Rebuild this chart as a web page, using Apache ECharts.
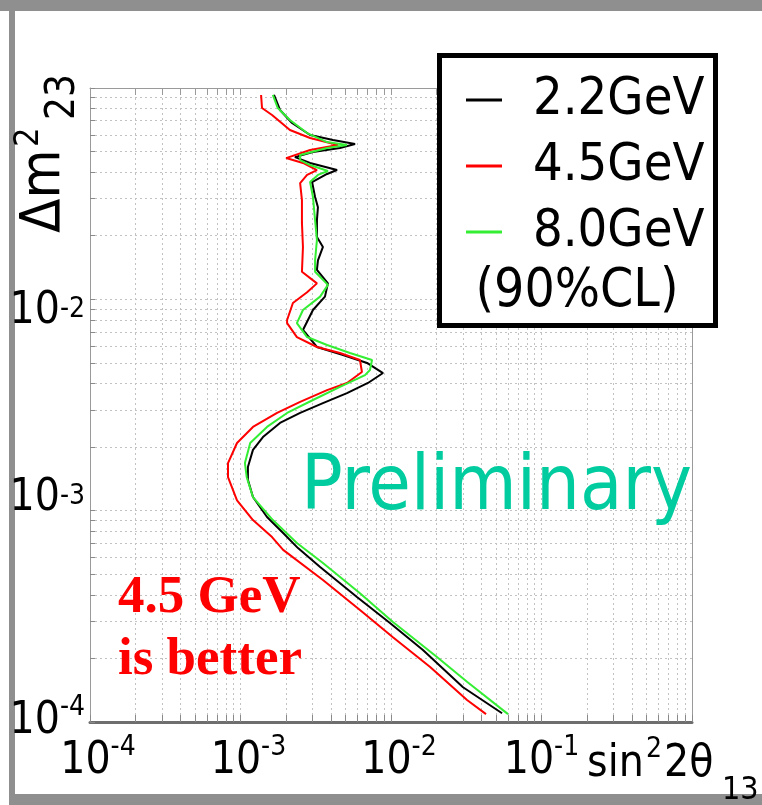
<!DOCTYPE html>
<html>
<head>
<meta charset="utf-8">
<script src="https://cdn.jsdelivr.net/npm/echarts@6/dist/echarts.min.js"></script>
<style>
html, body { margin: 0; padding: 0; background: #fff; }
#main { width: 762px; height: 805px; }
</style>
</head>
<body>
<div id="main"></div>
<script>
// 90% CL contours, [sin^2 2theta13, dm^2_23]
var seriesNames = ['2.2GeV', '4.5GeV', '8.0GeV'];
var seriesColors = ['#000000', '#ff0000', '#33ee33'];

var curve22 = [
  [1.67e-3, 9.27e-2], [1.83e-3, 7.87e-2], [2.20e-3, 6.83e-2], [2.90e-3, 5.99e-2],
  [4.12e-3, 5.67e-2], [5.77e-3, 5.43e-2], [4.58e-3, 5.20e-2], [3.03e-3, 4.98e-2],
  [2.30e-3, 4.71e-2], [2.90e-3, 4.42e-2], [4.38e-3, 4.09e-2], [3.76e-3, 3.92e-2],
  [2.99e-3, 3.59e-2], [3.13e-3, 3.05e-2], [3.27e-3, 2.73e-2], [3.22e-3, 2.37e-2],
  [3.22e-3, 1.97e-2], [3.53e-3, 1.77e-2], [3.27e-3, 1.53e-2], [3.22e-3, 1.38e-2],
  [3.81e-3, 1.19e-2], [3.64e-3, 1.03e-2], [3.03e-3, 8.90e-3], [2.60e-3, 7.16e-3],
  [3.22e-3, 5.95e-3], [4.80e-3, 5.45e-3], [6.93e-3, 5.00e-3], [8.85e-3, 4.48e-3],
  [7.03e-3, 4.02e-3], [5.10e-3, 3.60e-3], [3.53e-3, 3.23e-3], [2.49e-3, 2.90e-3],
  [1.83e-3, 2.60e-3], [1.41e-3, 2.23e-3], [1.21e-3, 1.94e-3], [1.12e-3, 1.61e-3],
  [1.12e-3, 1.40e-3], [1.21e-3, 1.16e-3], [1.50e-3, 9.33e-4], [1.92e-3, 7.84e-4],
  [2.41e-3, 6.65e-4], [3.38e-3, 5.41e-4], [5.94e-3, 3.90e-4], [9.84e-3, 2.94e-4],
  [1.63e-2, 2.19e-4], [3.01e-2, 1.46e-4], [5.47e-2, 1.10e-4]
];

var curve45 = [
  [1.37e-3, 9.27e-2], [1.39e-3, 8.04e-2], [1.62e-3, 7.45e-2], [2.13e-3, 6.33e-2],
  [2.90e-3, 5.80e-2], [4.44e-3, 5.37e-2], [2.90e-3, 5.09e-2], [2.01e-3, 4.66e-2],
  [2.60e-3, 4.42e-2], [3.22e-3, 4.09e-2], [2.77e-3, 3.88e-2], [2.49e-3, 3.55e-2],
  [2.56e-3, 2.95e-2], [2.56e-3, 2.30e-2], [2.60e-3, 1.77e-2], [2.56e-3, 1.35e-2],
  [3.22e-3, 1.19e-2], [2.77e-3, 1.08e-2], [2.23e-3, 9.61e-3], [2.04e-3, 7.98e-3],
  [2.04e-3, 7.72e-3], [2.37e-3, 6.63e-3], [3.22e-3, 5.95e-3], [4.58e-3, 5.57e-3],
  [6.22e-3, 5.16e-3], [6.41e-3, 4.53e-3], [5.10e-3, 4.02e-3], [3.76e-3, 3.72e-3],
  [2.49e-3, 3.27e-3], [1.75e-3, 2.90e-3], [1.21e-3, 2.49e-3], [9.48e-4, 2.09e-3],
  [8.26e-4, 1.68e-3], [8.26e-4, 1.44e-3], [9.48e-4, 1.12e-3], [1.21e-3, 9.03e-4],
  [1.62e-3, 7.50e-4], [1.92e-3, 6.52e-4], [3.53e-3, 4.70e-4], [6.22e-3, 3.39e-4],
  [1.03e-2, 2.52e-4], [1.82e-2, 1.82e-4], [3.20e-2, 1.27e-4], [4.28e-2, 1.09e-4]
];

var curve80 = [
  [1.64e-3, 9.27e-2], [1.77e-3, 8.04e-2], [2.13e-3, 7.06e-2], [2.77e-3, 6.12e-2],
  [3.76e-3, 5.55e-2], [5.10e-3, 5.37e-2], [3.76e-3, 5.20e-2], [2.49e-3, 4.82e-2],
  [2.49e-3, 4.56e-2], [2.90e-3, 4.32e-2], [3.81e-3, 4.05e-2], [3.27e-3, 3.88e-2],
  [2.90e-3, 3.59e-2], [3.03e-3, 3.05e-2], [3.13e-3, 2.37e-2], [3.22e-3, 1.91e-2],
  [3.13e-3, 1.53e-2], [3.13e-3, 1.35e-2], [3.81e-3, 1.17e-2], [3.38e-3, 1.03e-2],
  [2.60e-3, 8.90e-3], [2.37e-3, 7.72e-3], [2.77e-3, 6.63e-3], [3.76e-3, 6.08e-3],
  [5.34e-3, 5.57e-3], [7.48e-3, 5.16e-3], [7.25e-3, 4.63e-3], [6.72e-3, 4.38e-3],
  [4.58e-3, 3.85e-3], [3.03e-3, 3.34e-3], [2.04e-3, 2.90e-3], [1.50e-3, 2.49e-3],
  [1.16e-3, 2.09e-3], [1.07e-3, 1.68e-3], [1.10e-3, 1.44e-3], [1.21e-3, 1.16e-3],
  [1.64e-3, 9.03e-4], [2.37e-3, 7.03e-4], [3.53e-3, 5.65e-4], [6.22e-3, 4.07e-4],
  [1.03e-2, 2.97e-4], [2.02e-2, 2.03e-4], [3.20e-2, 1.55e-4], [5.99e-2, 1.09e-4]
];

var xLabelValues = [1e-4, 1e-3, 1e-2, 1e-1];
var yLabelValues = [1e-4, 1e-3, 1e-2];
var mantissas = [1, 2, 3, 4, 5, 6, 7, 8, 9];
var xDecades = [1e-4, 1e-3, 1e-2, 1e-1];
var yDecades = [1e-4, 1e-3, 1e-2];

function gridValues(decades, top) {
  var out = [];
  decades.forEach(function (d) {
    mantissas.forEach(function (m) { out.push(+(m * d).toPrecision(3)); });
  });
  out.push(top);
  return out;
}
var xGrid = gridValues(xDecades, 1);
var yGrid = gridValues(yDecades, 1e-1);

var FONT = "'DejaVu Sans Condensed', 'Liberation Sans', sans-serif";

function baseStyle(pad) {
  return { fontSize: 44, lineHeight: 56, fontFamily: FONT, color: '#000', padding: pad };
}
function supStyle(pad) {
  return { fontSize: 28, lineHeight: 28, fontFamily: FONT, color: '#000', verticalAlign: 'top', padding: pad };
}
// x labels sit a bit right of their ticks, except 10^-1
var xRich = { b: baseStyle([0, 0, 0, 16]), s: supStyle([0, 0, 0, 0]), bn: baseStyle([0, 0, 0, 0]), sn: supStyle([0, 0, 0, 0]) };
// the slide's y labels sit a little off their gridlines: 10^-2 below, 10^-3 above
var yRich = {
  b: baseStyle([0, 0, 0, 0]), s: supStyle([0, 0, 0, 0]),
  bd: baseStyle([24, 0, 0, 0]), sd: supStyle([24, 0, 0, 0]),
  bu: baseStyle([0, 0, 24, 0]), su: supStyle([0, 0, 0, 0])
};
function xLabel(v) {
  var e = Math.round(Math.log(v) / Math.LN10);
  var k = e === -1 ? 'n' : '';
  return '{b' + k + '|10}{s' + k + '|' + e + '}';
}
function yLabel(v) {
  var e = Math.round(Math.log(v) / Math.LN10);
  var k = e === -2 ? 'd' : (e === -3 ? 'u' : '');
  return '{b' + k + '|10}{s' + k + '|' + e + '}';
}

var chart = echarts.init(document.getElementById('main'));

var option = {
  animation: false,
  backgroundColor: '#fff',
  grid: { left: 90, top: 88, right: 70, bottom: 83, containLabel: false },
  legend: {
    orient: 'vertical', left: 461, top: 62,
    itemWidth: 36, itemHeight: 3, itemGap: 0, icon: 'rect',
    selectedMode: false, z: 10,
    data: seriesNames,
    textStyle: { fontSize: 52, fontFamily: FONT, color: '#000', lineHeight: 66, padding: [0, 0, 0, 26] }
  },
  xAxis: [{
    type: 'log', logBase: 10, min: 1e-4, max: 1, position: 'bottom',
    axisLine: { show: true, onZero: false, lineStyle: { color: '#6e6e6e', width: 3 } },
    axisTick: { show: true, inside: true, length: 7, customValues: xGrid, lineStyle: { color: '#8a8a8a' } },
    axisLabel: { customValues: xLabelValues, formatter: xLabel, rich: xRich, margin: 12 },
    splitLine: { show: true, lineStyle: { color: '#c2c2c2', type: [2, 3] } },
    minorTick: { show: false }
  }, {
    type: 'log', logBase: 10, min: 1e-4, max: 1, position: 'top',
    axisLine: { show: true, onZero: false, lineStyle: { color: '#9a9a9a', width: 1 } },
    axisTick: { show: true, inside: true, length: 7, customValues: xGrid, lineStyle: { color: '#9a9a9a' } },
    axisLabel: { show: false },
    splitLine: { show: false }
  }],
  yAxis: [{
    type: 'log', logBase: 10, min: 1e-4, max: 1e-1, position: 'left',
    axisLine: { show: true, onZero: false, lineStyle: { color: '#9a9a9a', width: 1 } },
    axisTick: { show: true, inside: true, length: 5, customValues: yGrid, lineStyle: { color: '#8a8a8a' } },
    axisLabel: { customValues: yLabelValues, formatter: yLabel, rich: yRich, margin: 5 },
    splitLine: { show: true, lineStyle: { color: '#c2c2c2', type: [2, 3] } }
  }, {
    type: 'log', logBase: 10, min: 1e-4, max: 1e-1, position: 'right',
    axisLine: { show: true, onZero: false, lineStyle: { color: '#9a9a9a', width: 1 } },
    axisTick: { show: false },
    axisLabel: { show: false },
    splitLine: { show: false }
  }],
  series: [curve22, curve45, curve80].map(function (d, i) {
    return {
      name: seriesNames[i], type: 'line', data: d,
      xAxisIndex: 0, yAxisIndex: 0,
      showSymbol: false, symbol: 'none', smooth: false,
      lineStyle: { color: seriesColors[i], width: 2 },
      itemStyle: { color: seriesColors[i] }, z: 2
    };
  }),
  graphic: [
    // slide frame
    { type: 'rect', shape: { x: 0, y: 0, width: 762, height: 11 }, style: { fill: '#8f8f8f' }, silent: true },
    { type: 'rect', shape: { x: 9, y: 0, width: 6, height: 805 }, style: { fill: '#8f8f8f' }, silent: true },
    { type: 'rect', shape: { x: 9, y: 794, width: 753, height: 11 }, style: { fill: '#8f8f8f' }, silent: true },
    // legend box
    { type: 'rect', z: 5, shape: { x: 439.5, y: 55.5, width: 276, height: 270 },
      style: { fill: '#fff', stroke: '#000', lineWidth: 5 }, silent: true },
    { type: 'text', z: 12, x: 577, y: 292,
      style: { text: '(90%CL)', font: '53px ' + FONT, fill: '#000', align: 'center', verticalAlign: 'middle', textAlign: 'center', textVerticalAlign: 'middle' } },
    // annotations
    { type: 'text', z: 6, x: 301, y: 489,
      style: { text: 'Preliminary', font: '77px ' + FONT, fill: '#00cc9f', align: 'left', verticalAlign: 'middle', textAlign: 'left', textVerticalAlign: 'middle' } },
    { type: 'text', z: 6, x: 118, y: 598,
      style: { text: '4.5 GeV', font: 'bold 53px "Liberation Serif", serif', fill: '#ff0000', align: 'left', verticalAlign: 'middle', textAlign: 'left', textVerticalAlign: 'middle' } },
    { type: 'text', z: 6, x: 118, y: 660,
      style: { text: 'is better', font: 'bold 53px "Liberation Serif", serif', fill: '#ff0000', align: 'left', verticalAlign: 'middle', textAlign: 'left', textVerticalAlign: 'middle' } },
    // x axis name: sin^2 2theta_13
    { type: 'text', z: 6, x: 587, y: 765,
      style: { text: 'sin', font: '44px ' + FONT, fill: '#000', align: 'left', verticalAlign: 'middle', textAlign: 'left', textVerticalAlign: 'middle' } },
    { type: 'text', z: 6, x: 646, y: 750,
      style: { text: '2', font: '28px ' + FONT, fill: '#000', align: 'left', verticalAlign: 'middle', textAlign: 'left', textVerticalAlign: 'middle' } },
    { type: 'text', z: 6, x: 664, y: 765,
      style: { text: '2\u03b8', font: '44px ' + FONT, fill: '#000', align: 'left', verticalAlign: 'middle', textAlign: 'left', textVerticalAlign: 'middle' } },
    { type: 'text', z: 6, x: 722, y: 791,
      style: { text: '13', font: '32px ' + FONT, fill: '#000', align: 'left', verticalAlign: 'middle', textAlign: 'left', textVerticalAlign: 'middle' } },
    // y axis name: dm^2_23, rotated
    { type: 'text', z: 6, x: 44, y: 233, rotation: Math.PI / 2,
      style: { text: '\u0394m', font: '56px ' + FONT, fill: '#000', align: 'left', verticalAlign: 'middle', textAlign: 'left', textVerticalAlign: 'middle' } },
    { type: 'text', z: 6, x: 29, y: 147, rotation: Math.PI / 2,
      style: { text: '2', font: '34px ' + FONT, fill: '#000', align: 'left', verticalAlign: 'middle', textAlign: 'left', textVerticalAlign: 'middle' } },
    { type: 'text', z: 6, x: 64, y: 120, rotation: Math.PI / 2,
      style: { text: '23', font: '40px ' + FONT, fill: '#000', align: 'left', verticalAlign: 'middle', textAlign: 'left', textVerticalAlign: 'middle' } }
  ]
};

chart.setOption(option);
window.addEventListener('resize', function () { chart.resize(); });
</script>
</body>
</html>
